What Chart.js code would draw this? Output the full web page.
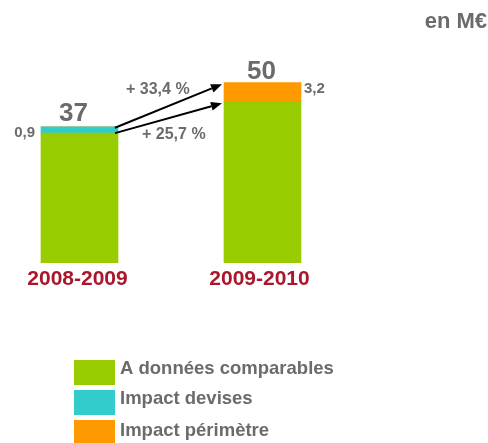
<!DOCTYPE html>
<html>
<head>
<meta charset="utf-8">
<script src="https://cdn.jsdelivr.net/npm/chart.js@4/dist/chart.umd.min.js"></script>
<style>
  body { margin: 0; background: #fff; }
  canvas { display: block; }
</style>
</head>
<body>
<canvas id="ca" width="488" height="443"></canvas>
<script>
// données (en M€)
const categories = ['2008-2009', '2009-2010'];
const comparables = [36.0, 44.7];
const devises = [1.75, 0];
const perimetre = [0, 5.3];
const totalLabels = ['37', '50'];
const impactLabels = ['0,9', '3,2'];
const growthLabels = ['+ 33,4 %', '+ 25,7 %'];

const GRIS = '#6b6b6b';
const ROUGE = '#a8172b';
const FONT = '"Liberation Sans", Arial, sans-serif';

function fleche(ctx, x1, y1, x2, y2) {
    const a = Math.atan2(y2 - y1, x2 - x1);
    const L = 11, W = 4.5;
    ctx.strokeStyle = '#000';
    ctx.fillStyle = '#000';
    ctx.lineWidth = 2;
    ctx.beginPath();
    ctx.moveTo(x1, y1);
    ctx.lineTo(x2 - L * Math.cos(a), y2 - L * Math.sin(a));
    ctx.stroke();
    ctx.beginPath();
    ctx.moveTo(x2, y2);
    ctx.lineTo(x2 - L * Math.cos(a) + W * Math.sin(a), y2 - L * Math.sin(a) - W * Math.cos(a));
    ctx.lineTo(x2 - L * Math.cos(a) - W * Math.sin(a), y2 - L * Math.sin(a) + W * Math.cos(a));
    ctx.closePath();
    ctx.fill();
}

const annotations = {
    id: 'annotations',
    afterDatasetsDraw(chart) {
        const ctx = chart.ctx;
        const y = chart.scales.y;
        const b1 = chart.getDatasetMeta(0).data[0];
        const b2 = chart.getDatasetMeta(0).data[1];
        const g1 = b1.x + b1.width / 2, d2 = b2.x - b2.width / 2;
        ctx.save();
        ctx.textBaseline = 'middle';

        // flèches
        fleche(ctx, g1 - 3, y.getPixelForValue(comparables[0] + devises[0]) + 1,
            d2 - 2, y.getPixelForValue(comparables[1] + perimetre[1]) + 1.5);
        fleche(ctx, g1 - 3, y.getPixelForValue(comparables[0]),
            d2 - 2, y.getPixelForValue(comparables[1]) + 1.5);

        // totaux
        ctx.fillStyle = GRIS;
        ctx.textAlign = 'center';
        ctx.font = 'bold 26px ' + FONT;
        ctx.fillText(totalLabels[0], b1.x - 6, y.getPixelForValue(comparables[0] + devises[0]) - 13);
        ctx.fillText(totalLabels[1], b2.x - 1, y.getPixelForValue(comparables[1] + perimetre[1]) - 11);

        // impacts
        ctx.font = 'bold 15px ' + FONT;
        ctx.textAlign = 'right';
        ctx.fillText(impactLabels[0], b1.x - b1.width / 2 - 6, y.getPixelForValue(comparables[0] + devises[0]) + 6);
        ctx.textAlign = 'left';
        ctx.fillText(impactLabels[1], b2.x + b2.width / 2 + 3, y.getPixelForValue(comparables[1] + perimetre[1]) + 6);

        // croissance
        ctx.font = 'bold 16px ' + FONT;
        ctx.fillText(growthLabels[0], 126, 90);
        ctx.fillText(growthLabels[1], 142, 135);

        // catégories
        ctx.fillStyle = ROUGE;
        ctx.textAlign = 'center';
        ctx.font = 'bold 21px ' + FONT;
        ctx.fillText(categories[0], b1.x - 2, 279);
        ctx.fillText(categories[1], b2.x - 3, 279);

        // unité
        ctx.fillStyle = GRIS;
        ctx.textAlign = 'right';
        ctx.font = 'bold 22px ' + FONT;
        ctx.fillText('en M€', 487, 22);

        // légende
        const lignes = [[360, 385, 369], [390, 415, 399], [420, 443, 431]];
        chart.data.datasets.forEach((ds, i) => {
            const [t, bas, cy] = lignes[i];
            ctx.fillStyle = ds.backgroundColor;
            ctx.fillRect(74, t, 41, bas - t);
            ctx.fillStyle = GRIS;
            ctx.textAlign = 'left';
            ctx.font = 'bold 18.5px ' + FONT;
            ctx.fillText(ds.label, 120, cy);
        });
        ctx.restore();
    }
};

new Chart(document.getElementById('ca'), {
    type: 'bar',
    data: {
        labels: categories,
        datasets: [
            { label: 'A données comparables', data: comparables, backgroundColor: '#99cc00' },
            { label: 'Impact devises', data: devises, backgroundColor: '#33cccc' },
            { label: 'Impact périmètre', data: perimetre, backgroundColor: '#ff9900' }
        ]
    },
    options: {
        responsive: false,
        animation: false,
        devicePixelRatio: 1,
        layout: { padding: { left: 79.5, right: 225.5, top: 46.7, bottom: 180.3 } },
        datasets: { bar: { barThickness: 77, borderWidth: 0, clip: false } },
        scales: {
            x: { stacked: true, offset: false, display: false },
            y: { stacked: true, min: 0, max: 60, display: false }
        },
        plugins: { legend: { display: false }, tooltip: { enabled: false } }
    },
    plugins: [annotations]
});
</script>
</body>
</html>
